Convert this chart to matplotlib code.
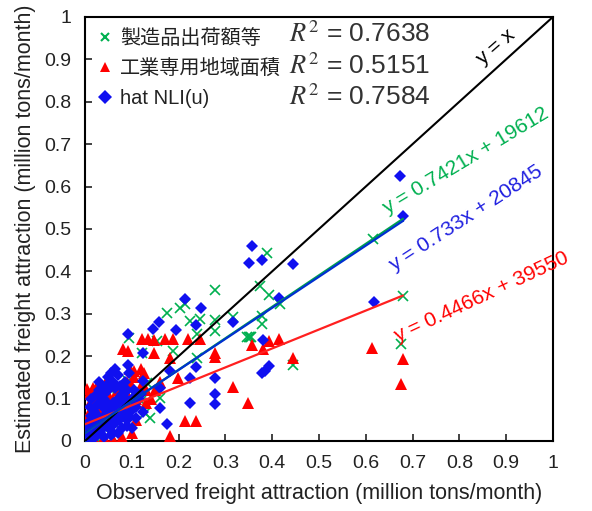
import numpy as np
import matplotlib
matplotlib.use("Agg")
import matplotlib.pyplot as plt
from matplotlib.ticker import FuncFormatter, MultipleLocator
from matplotlib.lines import Line2D

plt.rcParams['font.family'] = ['Liberation Sans', 'Noto Sans CJK JP', 'DejaVu Sans']
plt.rcParams['mathtext.fontset'] = 'stix'

# series names and fit results
names = ['製造品出荷額等', '工業専用地域面積', 'hat NLI(u)']
r2 = [0.7638, 0.5151, 0.7584]
slopes = [0.7421, 0.4466, 0.733]
intercepts = [19612, 39550, 20845]  # tons/month

# observed / estimated points, million tons/month
green_x = [0.615, 0.679, 0.675, 0.389, 0.374, 0.393, 0.417, 0.378, 0.378, 0.35, 0.355, 0.278, 0.175,
           0.203, 0.214, 0.224, 0.246, 0.278, 0.278, 0.094, 0.154, 0.239, 0.346, 0.352, 0.444, 0.316,
           0.122, 0.188, 0.239, 0.092, 0.07, 0.132, 0.139, 0.16, 0.128,
           0.005, 0.01, 0.02, 0.03, 0.04, 0.05, 0.06, 0.07, 0.08, 0.09, 0.1, 0.015, 0.03, 0.045,
           0.055, 0.065, 0.11, 0.12, 0.002]
green_y = [0.476, 0.342, 0.229, 0.443, 0.366, 0.344, 0.323, 0.295, 0.276, 0.245, 0.245, 0.356, 0.302,
           0.314, 0.323, 0.283, 0.288, 0.285, 0.259, 0.243, 0.236, 0.252, 0.245, 0.245, 0.18, 0.293,
           0.208, 0.212, 0.196, 0.141, 0.101, 0.137, 0.054, 0.101, 0.066,
           0.005, 0.015, 0.02, 0.035, 0.03, 0.05, 0.045, 0.07, 0.06, 0.08, 0.09, 0.0, 0.0, 0.065,
           0.09, 0.11, 0.12, 0.095, 0.03]

red_x = [0.613, 0.679, 0.675, 0.357, 0.38, 0.393, 0.415, 0.444, 0.348, 0.122, 0.135, 0.147, 0.171,
         0.188, 0.22, 0.246, 0.081, 0.092, 0.147, 0.182, 0.278, 0.278, 0.096, 0.104, 0.316, 0.199,
         0.214, 0.237, 0.182, 0.028, 0.004,
         0.01, 0.02, 0.03, 0.04, 0.05, 0.06, 0.07, 0.08, 0.09, 0.1, 0.015, 0.025, 0.035, 0.045,
         0.055, 0.065, 0.075, 0.085, 0.11, 0.12, 0.13, 0.005, 0.02, 0.04, 0.06, 0.08, 0.1, 0.11,
         0.13, 0.14, 0.003, 0.055, 0.09, 0.15, 0.16, 0.12,
         0.008, 0.018, 0.035, 0.05, 0.065, 0.085, 0.105, 0.125, 0.012, 0.045, 0.075]
red_y = [0.219, 0.193, 0.134, 0.226, 0.217, 0.236, 0.24, 0.196, 0.09, 0.24, 0.24, 0.238, 0.24,
         0.24, 0.24, 0.24, 0.217, 0.212, 0.208, 0.196, 0.208, 0.198, 0.17, 0.165, 0.127, 0.149,
         0.047, 0.047, 0.012, 0.134, 0.123,
         0.09, 0.1, 0.08, 0.12, 0.11, 0.1, 0.12, 0.09, 0.11, 0.13, 0.06, 0.05, 0.065, 0.09,
         0.075, 0.08, 0.06, 0.07, 0.1, 0.13, 0.12, 0.02, 0.005, 0.01, 0.005, 0.01, 0.02, 0.05,
         0.09, 0.1, 0.05, 0.135, 0.14, 0.12, 0.14, 0.17,
         0.11, 0.125, 0.1, 0.095, 0.13, 0.12, 0.15, 0.16, 0.075, 0.14, 0.11]

blue_x = [0.673, 0.679, 0.617, 0.445, 0.357, 0.35, 0.378, 0.415, 0.38, 0.378, 0.385, 0.393, 0.092,
          0.145, 0.158, 0.214, 0.248, 0.194, 0.237, 0.316, 0.124, 0.092, 0.237, 0.278, 0.224, 0.182,
          0.16, 0.124, 0.278, 0.224, 0.278, 0.16, 0.124, 0.175,
          0.005, 0.01, 0.015, 0.02, 0.025, 0.03, 0.035, 0.04, 0.045, 0.05, 0.055, 0.06, 0.065, 0.07,
          0.075, 0.08, 0.085, 0.09, 0.095, 0.1, 0.03, 0.035, 0.045, 0.05, 0.055, 0.06, 0.065, 0.07,
          0.075, 0.02, 0.015, 0.01, 0.04, 0.085, 0.09, 0.1, 0.11, 0.105, 0.06, 0.08, 0.005, 0.025,
          0.012, 0.115, 0.12, 0.095, 0.03,
          0.008, 0.018, 0.028, 0.038, 0.048, 0.058, 0.068, 0.078, 0.088, 0.098, 0.022, 0.032,
          0.042, 0.052, 0.062, 0.072, 0.082, 0.012, 0.025, 0.045, 0.065, 0.085, 0.105, 0.04,
          0.055, 0.07, 0.05, 0.03, 0.09, 0.11]
blue_y = [0.625, 0.531, 0.328, 0.417, 0.46, 0.42, 0.427, 0.337, 0.238, 0.16, 0.165, 0.177, 0.252,
          0.264, 0.28, 0.335, 0.314, 0.262, 0.274, 0.28, 0.208, 0.18, 0.175, 0.149, 0.149, 0.165,
          0.125, 0.141, 0.111, 0.09, 0.087, 0.078, 0.068, 0.04,
          0.01, 0.02, 0.005, 0.03, 0.015, 0.045, 0.025, 0.06, 0.035, 0.07, 0.05, 0.09, 0.06, 0.1,
          0.075, 0.11, 0.085, 0.12, 0.06, 0.1, 0.09, 0.11, 0.13, 0.15, 0.16, 0.14, 0.17, 0.155,
          0.13, 0.07, 0.05, 0.08, 0.1, 0.14, 0.05, 0.03, 0.08, 0.12, 0.02, 0.03, 0.04, 0.11,
          0.1, 0.1, 0.11, 0.16, 0.14,
          0.03, 0.04, 0.06, 0.08, 0.09, 0.075, 0.085, 0.095, 0.1, 0.07, 0.01, 0.02, 0.045, 0.03,
          0.04, 0.05, 0.065, 0.06, 0.085, 0.115, 0.125, 0.115, 0.08, 0.01, 0.015, 0.02, 0.12,
          0.12, 0.035, 0.055]

colors = ['#00B050', '#FF0000', '#1010F0']
line_colors = ['#00A050', '#FF2020', '#0030D0']
markers = ['x', '^', 'D']
msizes = [7, 9, 6.5]
xs = [green_x, red_x, blue_x]
ys = [green_y, red_y, blue_y]

fig = plt.figure(figsize=(5.92, 5.11), dpi=100)
ax = fig.add_axes([0.1436, 0.137, 0.7905, 0.83])

for i in range(3):
    if markers[i] == 'x':
        ax.plot(xs[i], ys[i], linestyle='none', marker='x', ms=msizes[i], mew=1.2,
                color=colors[i], zorder=3 + i)
    else:
        ax.plot(xs[i], ys[i], linestyle='none', marker=markers[i], ms=msizes[i], mew=0,
                color=colors[i], zorder=3 + i)

# y = x
ax.plot([0, 1], [0, 1], color='black', lw=1.5, zorder=7)

# trend lines
line_order = [1, 0, 2]
for i in line_order:
    xmax = max(xs[i])
    xx = np.array([0, xmax])
    ax.plot(xx, slopes[i] * xx + intercepts[i] / 1e6, color=line_colors[i], lw=1.6, zorder=8)

ax.set_xlim(0, 1)
ax.set_ylim(0, 1)
fmt = FuncFormatter(lambda v, p: '%g' % round(v, 1))
ax.xaxis.set_major_locator(MultipleLocator(0.1))
ax.yaxis.set_major_locator(MultipleLocator(0.1))
ax.xaxis.set_major_formatter(fmt)
ax.yaxis.set_major_formatter(fmt)
ax.tick_params(direction='in', length=5, width=1.2, labelsize=14, colors='#222222', pad=10)
for s in ax.spines.values():
    s.set_linewidth(1.5)

ax.set_xlabel('Observed freight attraction (million tons/month)', fontsize=15.5, color='#222222', labelpad=8)
ax.set_ylabel('Estimated freight attraction (million tons/month)', fontsize=15.5, color='#222222', labelpad=6)

# legend
handles = []
for i in range(3):
    if markers[i] == 'x':
        handles.append(Line2D([], [], linestyle='none', marker='x', ms=6, mew=1.5, color=colors[i]))
    else:
        handles.append(Line2D([], [], linestyle='none', marker=markers[i], ms=7, mew=0, color=colors[i]))
leg = ax.legend(handles, names, loc='upper left', bbox_to_anchor=(0.0, 1.0), frameon=False,
                fontsize=14.5, handlelength=0.8, handletextpad=0.35, labelspacing=0.55,
                borderaxespad=0.2)
for t in leg.get_texts():
    t.set_color('#222222')

r2_y = [0.96, 0.883, 0.81]
for i in range(3):
    ax.text(0.435, r2_y[i], r'$R^2$' + ' = %.4f' % r2[i], transform=ax.transAxes,
            fontsize=19, color='#333333', va='center', ha='left')

# equation labels
ax.text(0.85, 0.885, 'y = x', rotation=41, fontsize=15, color='black',
        rotation_mode='anchor', clip_on=False)
ax.text(0.645, 0.535, 'y = 0.7421x + 19612', rotation=31, fontsize=15, color='#00B050',
        rotation_mode='anchor', clip_on=False)
ax.text(0.66, 0.4, 'y = 0.733x + 20845', rotation=33, fontsize=15, color='#2020E0',
        rotation_mode='anchor', clip_on=False)
ax.text(0.668, 0.232, 'y = 0.4466x + 39550', rotation=25, fontsize=15, color='#FF0000',
        rotation_mode='anchor', clip_on=False)

fig.savefig('out.png', dpi=100)
